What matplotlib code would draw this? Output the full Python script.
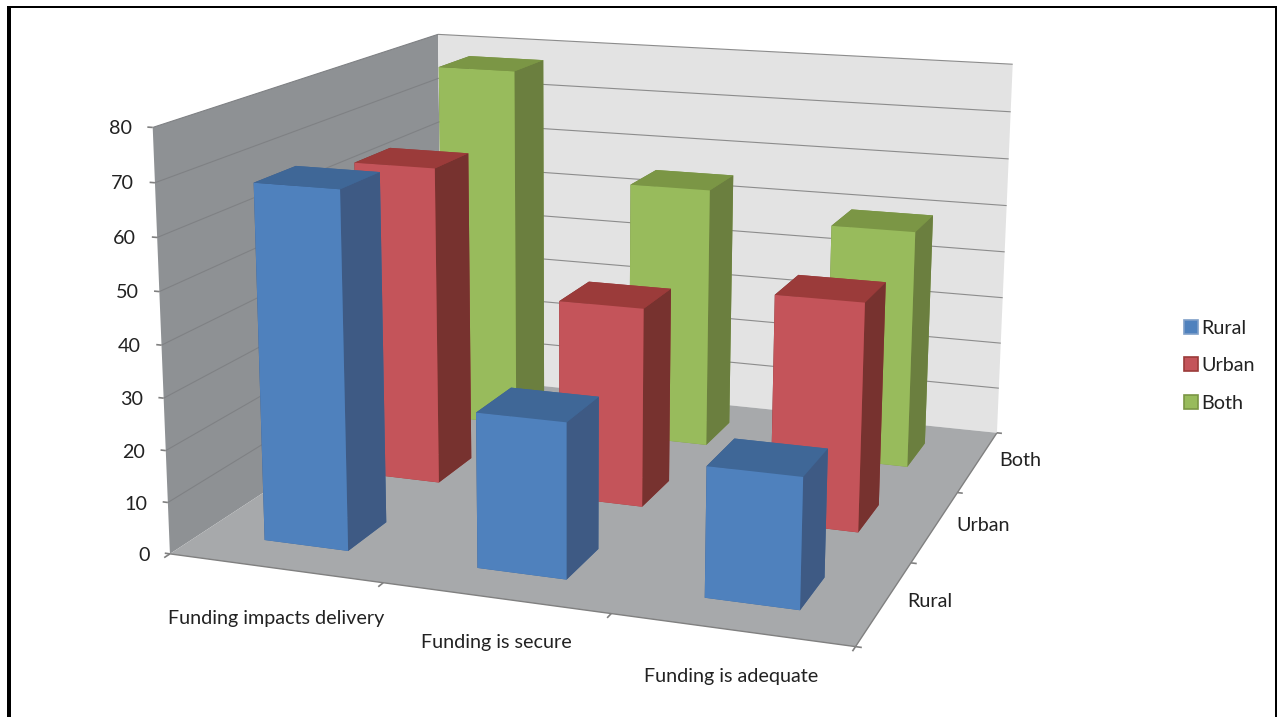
# -*- coding: utf-8 -*-
"""3D column chart of funding answers, Excel style"""

import numpy as np
import matplotlib
matplotlib.use('Agg')
import matplotlib.pyplot as plt
from matplotlib.patches import Patch, Rectangle
from mpl_toolkits.mplot3d import proj3d
from mpl_toolkits.mplot3d.art3d import Poly3DCollection, Line3DCollection

## Data
categories = ['Funding impacts delivery', 'Funding is secure', 'Funding is adequate']
series = ['Rural', 'Urban', 'Both']
rural = [68.5, 29.5, 24.3]
urban = [64.5, 40, 45]
both = [77.5, 55, 49.5]
z_ticks = [0, 10, 20, 30, 40, 50, 60, 70, 80]

## Colours: front, top, side
colours = {
    'Rural': ('#4f81bd', '#3f6797', '#3e5a84'),
    'Urban': ('#c4545a', '#9b3b3a', '#77322f'),
    'Both': ('#98bb5c', '#7b9645', '#6b7f3f'),
}
legend_edges = {'Rural': '#7f9fc8', 'Urban': '#9b3b3a', 'Both': '#7b9645'}

plt.rcParams['font.family'] = ['Lato', 'DejaVu Sans']

fig = plt.figure(figsize=(12.77, 7.17), dpi=100)
ax = fig.add_axes([0, 0, 1, 1], projection='3d')
ax.computed_zorder = False
ax.apply_aspect = lambda position=None: None
ax.set_xticks([])
ax.set_yticks([])
ax.set_zticks([])
ax.set_axis_off()

## Camera: fit a projection from the chart box corners seen in the picture
world = [(0, 0, 0), (3, 0, 0), (3, 3, 0), (0, 3, 0), (0, 0, 80), (3, 3, 80), (0, 3, 80)]
pixel = [(172, 553), (855, 648), (998, 431), (440, 377), (151, 127), (1012, 65), (440, 34)]
rows = []
for (X, Y, Z), (u, v) in zip(world, pixel):
    rows.append([X, Y, Z, 1, 0, 0, 0, 0, -u * X, -u * Y, -u * Z, -u])
    rows.append([0, 0, 0, 0, X, Y, Z, 1, -v * X, -v * Y, -v * Z, -v])
P = np.linalg.svd(np.array(rows))[2][-1].reshape(3, 4)
P = P / (P[2] @ np.array([1.5, 1.5, 40, 1]))

vl = ax.viewLim
sx = np.array([(vl.x1 - vl.x0) / 1277, 0, vl.x0])
sy = np.array([0, (vl.y0 - vl.y1) / 717, vl.y1])
M = np.vstack([sx @ P, sy @ P, P[2] - np.array([0, 0, 0, 1]), P[2]])
ax.get_proj = lambda: M


def label(x, y, z, s, ha='center'):
    # text placed at a projected point, kept as plain 2D text
    px, py, _ = proj3d.proj_transform(x, y, z, M)
    ax.text2D(px, py, s, transform=ax.transData, ha=ha, va='center', fontsize=14.2, color='#222222')


def seg(p, q, color='#808080', lw=1.2):
    ax.add_collection3d(Line3DCollection([[p, q]], colors=color, linewidths=lw, zorder=2))


## Walls and floor
left_wall = [(0, 0, 0), (0, 3, 0), (0, 3, 80), (0, 0, 80)]
back_wall = [(0, 3, 0), (3, 3, 0), (3, 3, 80), (0, 3, 80)]
floor = [(0, 0, 0), (3, 0, 0), (3, 3, 0), (0, 3, 0)]
ax.add_collection3d(Poly3DCollection([left_wall], facecolor='#8e9194', edgecolor='none', zorder=0.5))
ax.add_collection3d(Poly3DCollection([back_wall], facecolor='#e3e3e3', edgecolor='none', zorder=0.5))
ax.add_collection3d(Poly3DCollection([floor], facecolor='#a7a9ab', edgecolor='none', zorder=0.5))

## Gridlines and ticks
for z in z_ticks:
    if z > 0:
        seg((0, 0, z), (0, 3, z), '#7f8184', 0.8)
        seg((0, 3, z), (3, 3, z), '#8c8c8c', 0.8)
    seg((-0.025, 0, z), (0, 0, z))
    label(-0.07, -0.05, z, str(z), ha='right')
seg((0, 0, 0), (3, 0, 0), lw=1.0)
seg((3, 0, 0), (3, 3, 0), lw=1.0)
for i in range(4):
    seg((i, 0, 0), (i, -0.05, 0))
    seg((3, i, 0), (3.025, i, 0))

## Axis labels
cat_x = [0.764, 1.682, 2.632]
cat_y = [-0.515, -0.446, -0.455]
ser_x = [3.17, 3.20, 3.19]
for i, name in enumerate(categories):
    label(cat_x[i], cat_y[i], 0, name)
for j, name in enumerate(series):
    label(ser_x[j], j + 0.58, 0, name)

## Bars, back to front
bar_w = 0.4
bar_d = 0.4
heights = {'Rural': rural, 'Urban': urban, 'Both': both}
zo = 3
for j in [2, 1, 0]:
    name = series[j]
    front, top, side = colours[name]
    for i in range(len(categories)):
        ax.bar3d(i + 0.5 - bar_w / 2, j + 0.5 - bar_d / 2, 0, bar_w, bar_d, heights[name][i],
                 color=[top, top, front, top, side, side], shade=False, zorder=zo)
        zo += 1

## Legend
handles = [Patch(facecolor=colours[s][0], edgecolor=legend_edges[s], lw=1.2, label=s) for s in series]
ax.legend(handles=handles, loc='center left', bbox_to_anchor=(0.921, 0.49), frameon=False,
          fontsize=14.2, handlelength=0.72, handleheight=0.72, handletextpad=0.15, labelspacing=1.04,
          labelcolor='#222222', borderaxespad=0)

## Frame around the picture, open at the bottom
for xy, w, h in [((7, 6), 4, 711), ((7, 6), 1269, 2), ((1275, 6), 2, 711)]:
    fig.add_artist(Rectangle((xy[0] / 1277, 1 - (xy[1] + h) / 717), w / 1277, h / 717,
                             transform=fig.transFigure, facecolor='black', edgecolor='none'))

fig.savefig('out.png', dpi=100)
